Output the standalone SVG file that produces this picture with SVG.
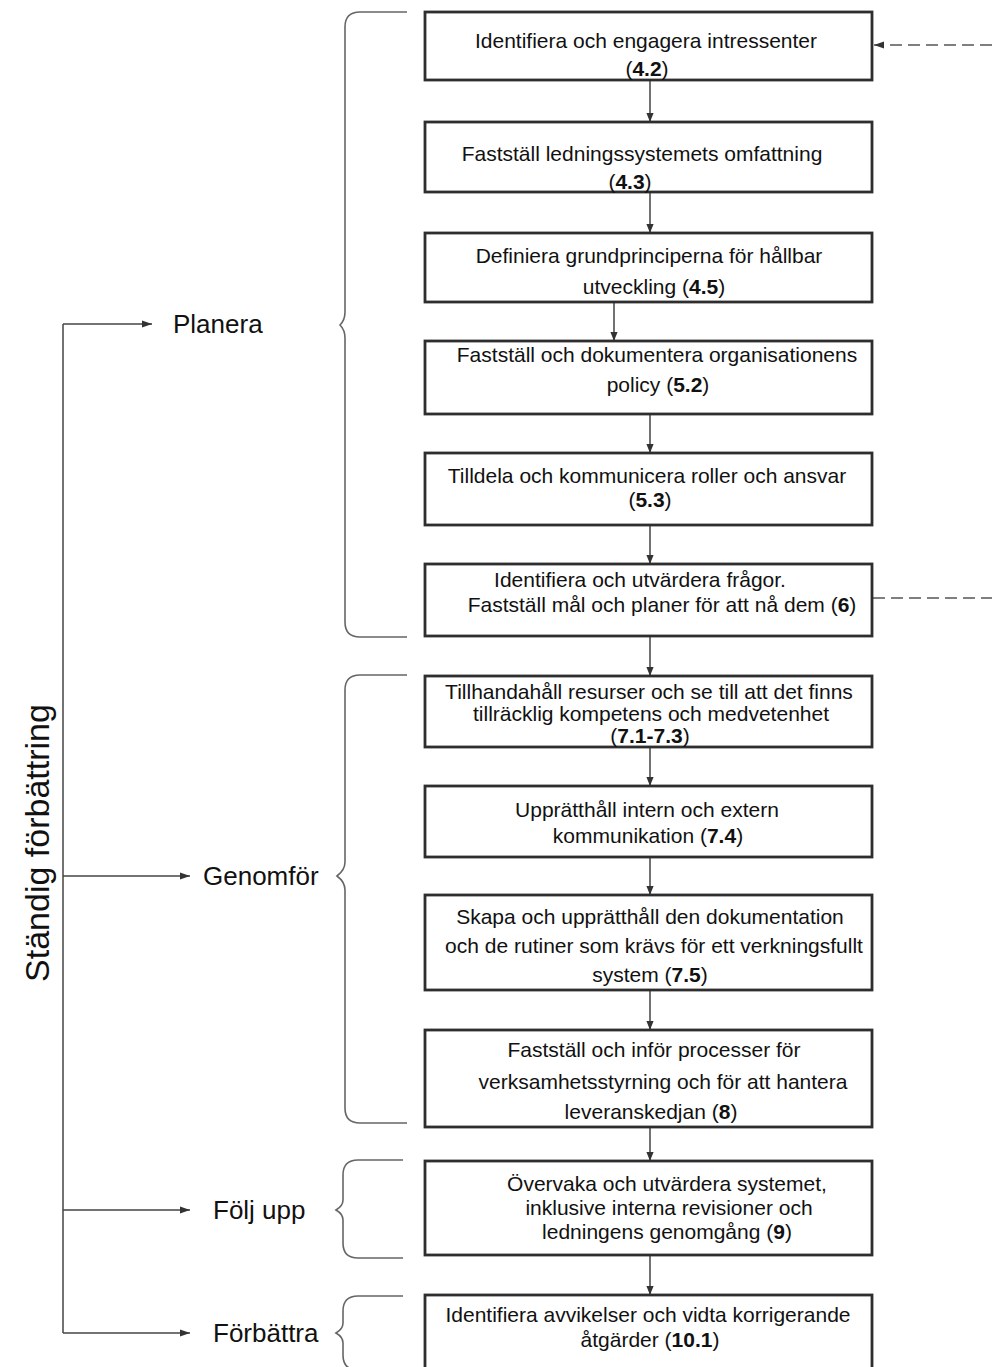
<svg xmlns="http://www.w3.org/2000/svg" width="992" height="1367" viewBox="0 0 992 1367">
<defs>
<style>
.box{fill:#fff;stroke:#2e2e2e;stroke-width:2.8}
.t{font-family:"Liberation Sans",Arial,sans-serif;font-size:21px;fill:#111;text-anchor:middle}
.b{font-weight:bold}
.lbl{font-family:"Liberation Sans",Arial,sans-serif;font-size:26px;fill:#111}
.ln{fill:none;stroke:#444;stroke-width:1.5}
.br{fill:none;stroke:#666;stroke-width:1.6}
.dash{fill:none;stroke:#555;stroke-width:1.6;stroke-dasharray:12 6}
</style>
<marker id="ah" viewBox="0 0 10 10" refX="10" refY="5" markerWidth="9" markerHeight="9" markerUnits="userSpaceOnUse" orient="auto"><path d="M0,1 L10,5 L0,9 z" fill="#333"/></marker>
<marker id="ahw" viewBox="0 0 10 10" refX="10" refY="5" markerWidth="13" markerHeight="10" markerUnits="userSpaceOnUse" orient="auto"><path d="M0,1.5 L10,5 L0,8.5 z" fill="#333"/></marker>
</defs>

<g id="connectors">
<line class="ln" x1="650" y1="80" x2="650" y2="122" marker-end="url(#ah)"/>
<line class="ln" x1="650" y1="192" x2="650" y2="233" marker-end="url(#ah)"/>
<line class="ln" x1="614" y1="302" x2="614" y2="341" marker-end="url(#ah)"/>
<line class="ln" x1="650" y1="414" x2="650" y2="453" marker-end="url(#ah)"/>
<line class="ln" x1="650" y1="525" x2="650" y2="564" marker-end="url(#ah)"/>
<line class="ln" x1="650" y1="636" x2="650" y2="676" marker-end="url(#ah)"/>
<line class="ln" x1="650" y1="747" x2="650" y2="786" marker-end="url(#ah)"/>
<line class="ln" x1="650" y1="857" x2="650" y2="895" marker-end="url(#ah)"/>
<line class="ln" x1="650" y1="990" x2="650" y2="1030" marker-end="url(#ah)"/>
<line class="ln" x1="650" y1="1127" x2="650" y2="1161" marker-end="url(#ah)"/>
<line class="ln" x1="650" y1="1255" x2="650" y2="1295" marker-end="url(#ah)"/>
<line class="dash" x1="992" y1="45" x2="874" y2="45" marker-end="url(#ahw)"/>
<line class="dash" x1="873" y1="598" x2="992" y2="598"/>
<path class="ln" d="M63,324 L63,1333"/>
<line class="ln" x1="63" y1="324" x2="152" y2="324" marker-end="url(#ahw)"/>
<line class="ln" x1="63" y1="876" x2="190" y2="876" marker-end="url(#ahw)"/>
<line class="ln" x1="63" y1="1210" x2="190" y2="1210" marker-end="url(#ahw)"/>
<line class="ln" x1="63" y1="1333" x2="190" y2="1333" marker-end="url(#ahw)"/>
</g>

<g id="braces">
<path class="br" d="M407,12 L360,12 Q345,12 345,27 L345,312 Q345,320 340,325 Q345,330 345,338 L345,622 Q345,637 360,637 L407,637"/>
<path class="br" d="M407,675 L360,675 Q345,675 345,690 L345,862 Q345,870 337,876 Q345,882 345,890 L345,1108 Q345,1123 360,1123 L407,1123"/>
<path class="br" d="M403,1160 L358,1160 Q343,1160 343,1175 L343,1200 Q343,1206 336,1210 Q343,1214 343,1220 L343,1243 Q343,1258 358,1258 L403,1258"/>
<path class="br" d="M403,1296 L358,1296 Q343,1296 343,1311 L343,1323 Q343,1329 336,1333 Q343,1337 343,1343 L343,1355 Q343,1370 358,1370 L403,1370"/>
</g>

<g id="labels">
<text class="lbl" x="173" y="333">Planera</text>
<text class="lbl" x="203" y="885">Genomför</text>
<text class="lbl" x="213" y="1219">Följ upp</text>
<text class="lbl" x="213" y="1342">Förbättra</text>
<text class="lbl" transform="translate(49,843) rotate(-90)" text-anchor="middle" style="font-size:34px">Ständig förbättring</text>
</g>

<g id="n1"><rect class="box" x="425" y="12" width="447" height="68"/>
<text class="t" x="646" y="48">Identifiera och engagera intressenter</text>
<text class="t" x="647" y="76">(<tspan class="b">4.2</tspan>)</text></g>

<g id="n2"><rect class="box" x="425" y="122" width="447" height="70"/>
<text class="t" x="642" y="161">Fastställ ledningssystemets omfattning</text>
<text class="t" x="630" y="189">(<tspan class="b">4.3</tspan>)</text></g>

<g id="n3"><rect class="box" x="425" y="233" width="447" height="69"/>
<text class="t" x="649" y="263">Definiera grundprinciperna för hållbar</text>
<text class="t" x="654" y="294">utveckling (<tspan class="b">4.5</tspan>)</text></g>

<g id="n4"><rect class="box" x="425" y="341" width="447" height="73"/>
<text class="t" x="657" y="362">Fastställ och dokumentera organisationens</text>
<text class="t" x="658" y="392">policy (<tspan class="b">5.2</tspan>)</text></g>

<g id="n5"><rect class="box" x="425" y="453" width="447" height="72"/>
<text class="t" x="647" y="483">Tilldela och kommunicera roller och ansvar</text>
<text class="t" x="650" y="507">(<tspan class="b">5.3</tspan>)</text></g>

<g id="n6"><rect class="box" x="425" y="564" width="447" height="72"/>
<text class="t" x="640" y="587">Identifiera och utvärdera frågor.</text>
<text class="t" x="662" y="612">Fastställ mål och planer för att nå dem (<tspan class="b">6</tspan>)</text></g>

<g id="n7"><rect class="box" x="425" y="676" width="447" height="71"/>
<text class="t" x="649" y="699">Tillhandahåll resurser och se till att det finns</text>
<text class="t" x="651" y="721">tillräcklig kompetens och medvetenhet</text>
<text class="t" x="650" y="743">(<tspan class="b">7.1-7.3</tspan>)</text></g>

<g id="n8"><rect class="box" x="425" y="786" width="447" height="71"/>
<text class="t" x="647" y="817">Upprätthåll intern och extern</text>
<text class="t" x="648" y="843">kommunikation (<tspan class="b">7.4</tspan>)</text></g>

<g id="n9"><rect class="box" x="425" y="895" width="447" height="95"/>
<text class="t" x="650" y="924">Skapa och upprätthåll den dokumentation</text>
<text class="t" x="654" y="953">och de rutiner som krävs för ett verkningsfullt</text>
<text class="t" x="650" y="982">system (<tspan class="b">7.5</tspan>)</text></g>

<g id="n10"><rect class="box" x="425" y="1030" width="447" height="97"/>
<text class="t" x="654" y="1057">Fastställ och inför processer för</text>
<text class="t" x="663" y="1089">verksamhetsstyrning och för att hantera</text>
<text class="t" x="651" y="1119">leveranskedjan (<tspan class="b">8</tspan>)</text></g>

<g id="n11"><rect class="box" x="425" y="1161" width="447" height="94"/>
<text class="t" x="667" y="1191">Övervaka och utvärdera systemet,</text>
<text class="t" x="669" y="1215">inklusive interna revisioner och</text>
<text class="t" x="667" y="1239">ledningens genomgång (<tspan class="b">9</tspan>)</text></g>

<g id="n12"><rect class="box" x="425" y="1295" width="447" height="80"/>
<text class="t" x="648" y="1322">Identifiera avvikelser och vidta korrigerande</text>
<text class="t" x="650" y="1347">åtgärder (<tspan class="b">10.1</tspan>)</text></g>
</svg>
